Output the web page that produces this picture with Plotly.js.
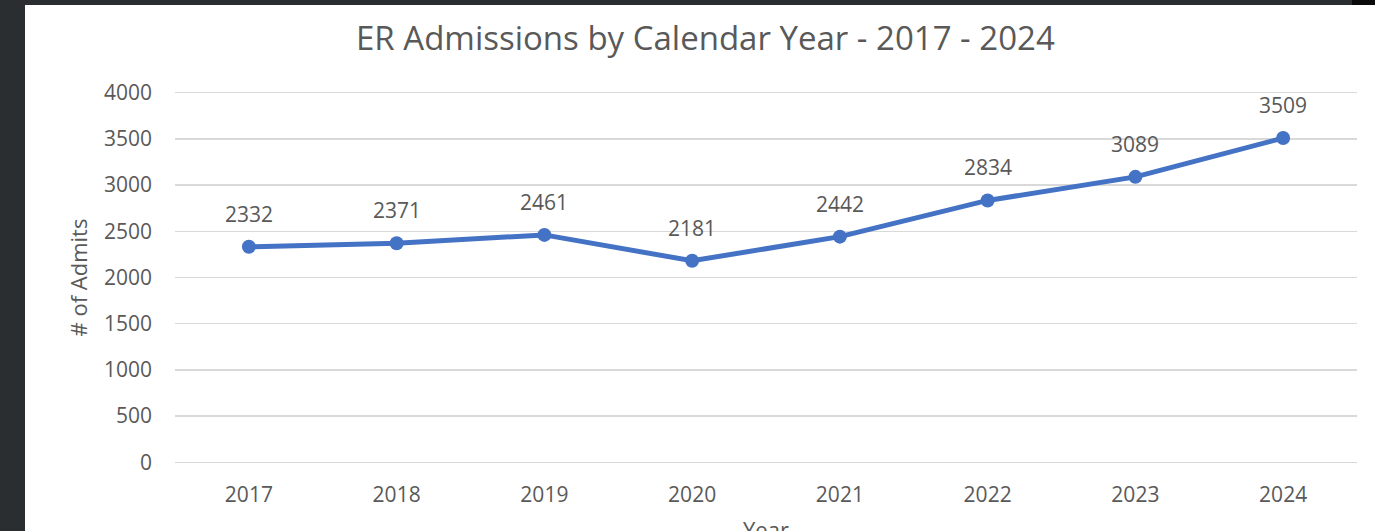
<!DOCTYPE html>
<html>
<head>
<meta charset="utf-8">
<script src="https://cdn.plot.ly/plotly-3.0.1.min.js"></script>
<style>
  html, body { margin: 0; padding: 0; width: 1375px; height: 531px; overflow: hidden; background: #2b2e31; }
  #topbar { position: absolute; left: 1352px; top: 0; width: 23px; height: 5px; background: #0a0a0a; }
  #chart { position: absolute; left: 25px; top: 5px; width: 1350px; height: 526px; }
</style>
</head>
<body>
<div id="topbar"></div>
<div id="chart"></div>
<script>
const years = ['2017', '2018', '2019', '2020', '2021', '2022', '2023', '2024'];
const admits = [2332, 2371, 2461, 2181, 2442, 2834, 3089, 3509];
const yTicks = [0, 500, 1000, 1500, 2000, 2500, 3000, 3500, 4000];

const FONT = 'Open Sans, Noto Sans, sans-serif';
const GREY = '#595959';

const trace = {
  x: years,
  y: admits,
  type: 'scatter',
  mode: 'lines+markers',
  line: { color: '#4472C4', width: 5 },
  marker: { color: '#4472C4', size: 14 },
  hoverinfo: 'x+y'
};

const labels = years.map((yr, i) => ({
  x: i, y: admits[i], xref: 'x', yref: 'y',
  text: String(admits[i]), showarrow: false,
  yshift: 33, font: { family: FONT, size: 21, color: GREY }
}));

labels.push({
  text: 'Year', xref: 'paper', yref: 'paper', x: 0.5, y: 0,
  yshift: -63, yanchor: 'middle', showarrow: false,
  font: { family: FONT, size: 22, color: GREY }
});

const layout = {
  width: 1350, height: 526,
  margin: { l: 150, r: 18, t: 84, b: 65 },
  paper_bgcolor: '#ffffff', plot_bgcolor: '#ffffff',
  showlegend: false,
  title: {
    text: 'ER Admissions by Calendar Year - 2017 - 2024',
    font: { family: FONT, size: 33, color: GREY },
    xref: 'container', yref: 'container', x: 0.504, y: 0.937,
    xanchor: 'center', yanchor: 'middle'
  },
  xaxis: {
    type: 'category',
    range: [-0.5, 7.5],
    showgrid: false, zeroline: false, showline: false,
    ticks: '', ticklabelstandoff: 14,
    tickfont: { family: FONT, size: 21, color: GREY },
    fixedrange: true
  },
  yaxis: {
    range: [-40, 4040],
    tickvals: yTicks, ticktext: yTicks.map(String),
    showgrid: true, gridcolor: '#d9d9d9', gridwidth: 1.5,
    zeroline: false, showline: false,
    ticks: '', ticklabelstandoff: 22,
    tickfont: { family: FONT, size: 21, color: GREY },
    title: { text: '# of Admits', standoff: 10, font: { family: FONT, size: 22, color: GREY } },
    fixedrange: true
  },
  annotations: labels
};

Plotly.newPlot('chart', [trace], layout, { displayModeBar: false, staticPlot: true });
</script>
</body>
</html>
